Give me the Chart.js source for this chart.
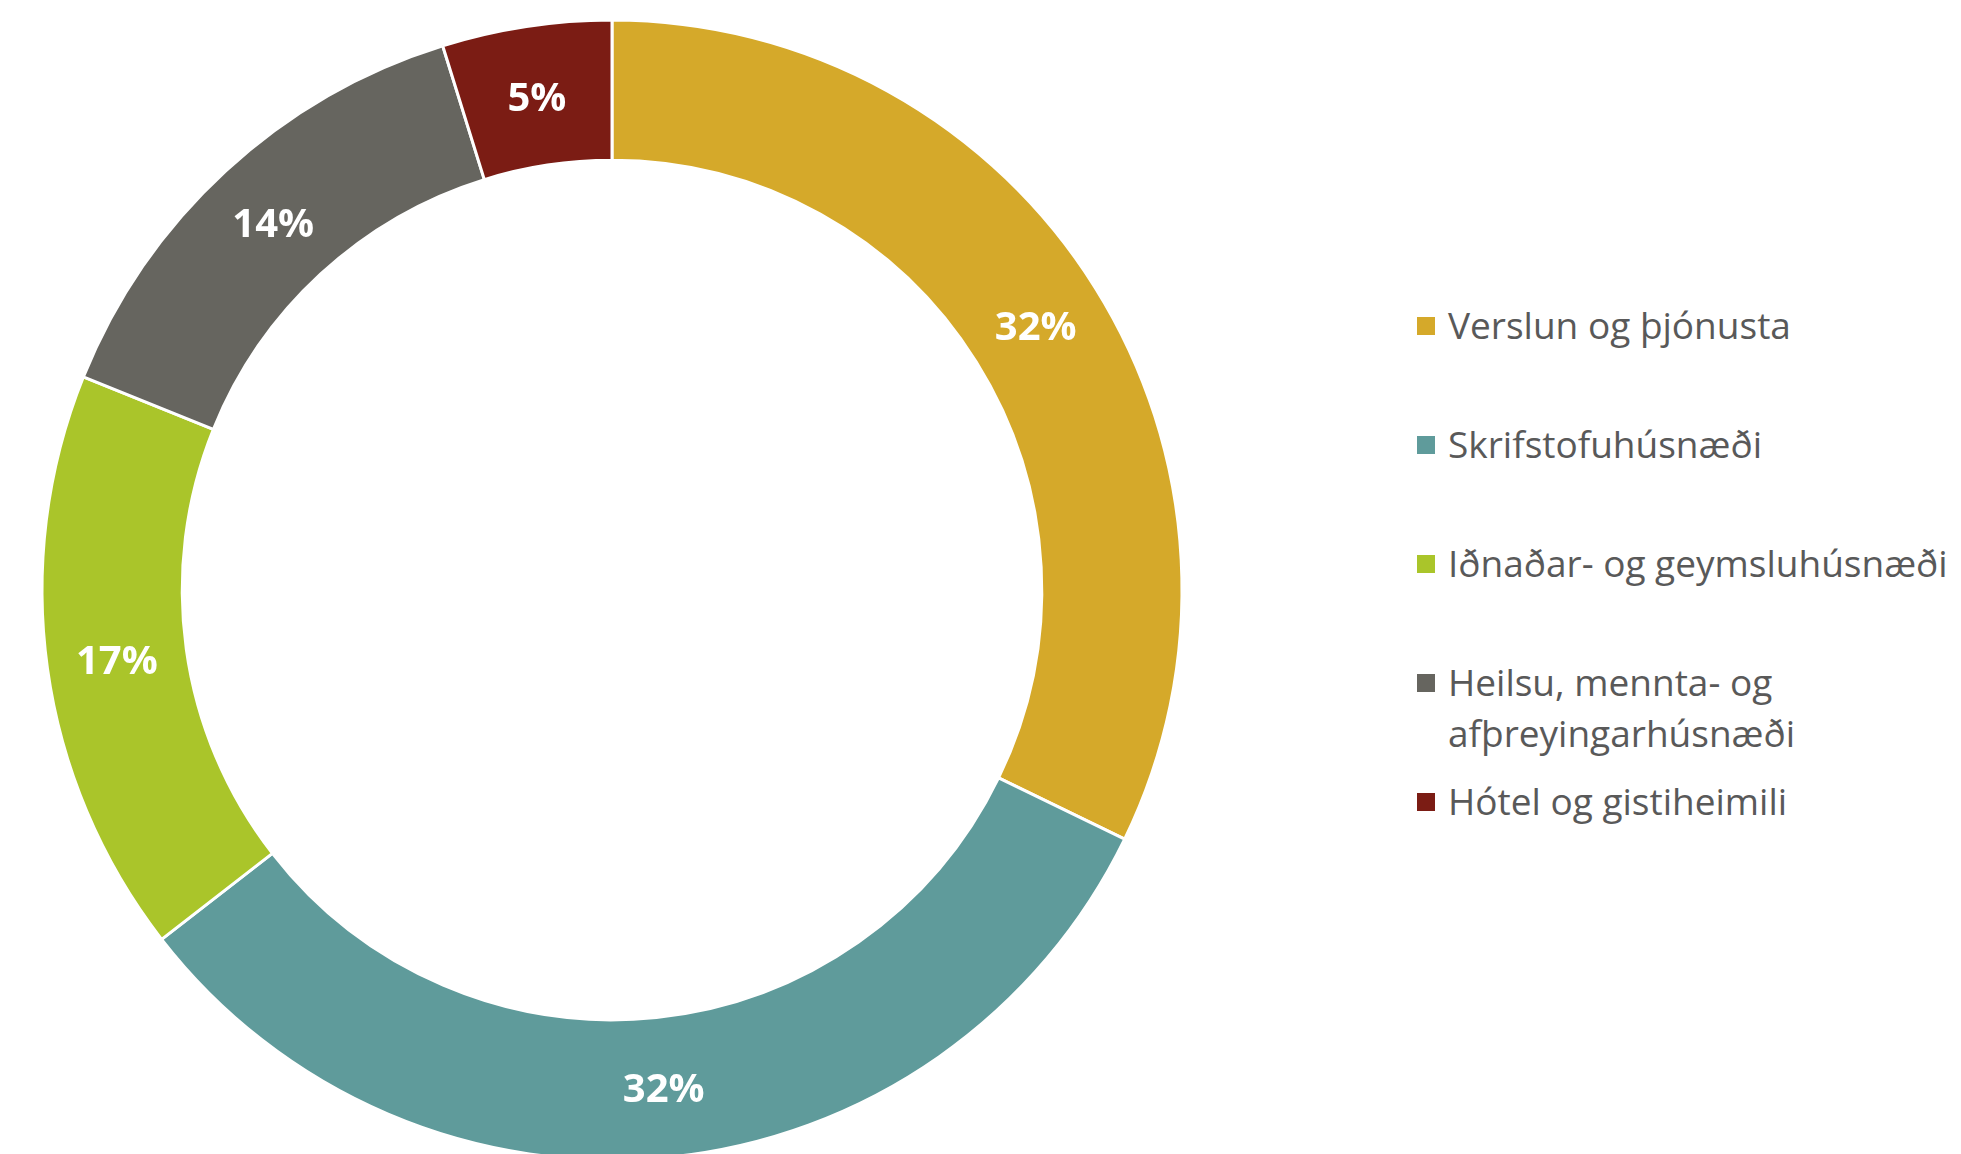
<!DOCTYPE html>
<html>
<head>
<meta charset="utf-8">
<script src="https://cdn.jsdelivr.net/npm/chart.js@4/dist/chart.umd.min.js"></script>
<style>
  html, body { margin:0; padding:0; background:#fff; width:1961px; height:1154px; overflow:hidden; }
  #wrap { position:absolute; left:0; top:0; width:1224px; height:1180px; }
  #legend { position:absolute; left:1417px; top:0; width:544px; font-family:"Open Sans", sans-serif; color:#595959; font-size:37px; }
  .item { position:absolute; left:0; display:flex; align-items:flex-start; width:544px; }
  .sw { width:18px; height:18px; flex:0 0 18px; margin-right:13px; }
  .txt { line-height:51px; margin-top:-18px; white-space:normal; width:512px; }
  .item:nth-child(1) { top:317px; }
  .item:nth-child(2) { top:436px; }
  .item:nth-child(3) { top:555px; }
  .item:nth-child(4) { top:674px; }
  .item:nth-child(5) { top:793px; }
</style>
</head>
<body>
<div id="wrap"><canvas id="c" width="1224" height="1180"></canvas></div>
<div id="legend"></div>
<script>
const categories = ['Verslun og þjónusta', 'Skrifstofuhúsnæði', 'Iðnaðar- og geymsluhúsnæði', 'Heilsu, mennta- og afþreyingarhúsnæði', 'Hótel og gistiheimili'];
const shares = [32.2, 32.3, 16.6, 14.1, 4.8];
const colors = ['#D5A92A', '#5F9B9B', '#AAC52A', '#66655F', '#7B1C14'];

const legend = document.getElementById('legend');
categories.forEach((name, i) => {
  const it = document.createElement('div');
  it.className = 'item';
  const sw = document.createElement('div');
  sw.className = 'sw';
  sw.style.background = colors[i];
  const tx = document.createElement('div');
  tx.className = 'txt';
  tx.textContent = name;
  it.appendChild(sw); it.appendChild(tx);
  legend.appendChild(it);
});

const labelPlugin = {
  id: 'sliceLabels',
  afterDatasetsDraw(chart) {
    const ctx = chart.ctx;
    const meta = chart.getDatasetMeta(0);
    const data = chart.data.datasets[0].data;
    const total = data.reduce((a, b) => a + b, 0);
    ctx.save();
    ctx.fillStyle = '#ffffff';
    ctx.font = 'bold 40px "Open Sans"';
    ctx.textAlign = 'center';
    ctx.textBaseline = 'alphabetic';
    meta.data.forEach((arc, i) => {
      const p = arc.tooltipPosition();
      ctx.fillText(Math.round(data[i] / total * 100) + '%', p.x, p.y + 15);
    });
    ctx.restore();
  }
};

new Chart(document.getElementById('c'), {
  type: 'doughnut',
  data: {
    labels: categories,
    datasets: [{
      data: shares,
      backgroundColor: colors,
      borderColor: '#ffffff',
      borderWidth: 3
    }]
  },
  options: {
    responsive: false,
    animation: false,
    radius: 570,
    cutout: '75.4%',
    layout: { padding: 0 },
    plugins: { legend: { display: false }, tooltip: { enabled: false } }
  },
  plugins: [labelPlugin]
});
</script>
</body>
</html>
